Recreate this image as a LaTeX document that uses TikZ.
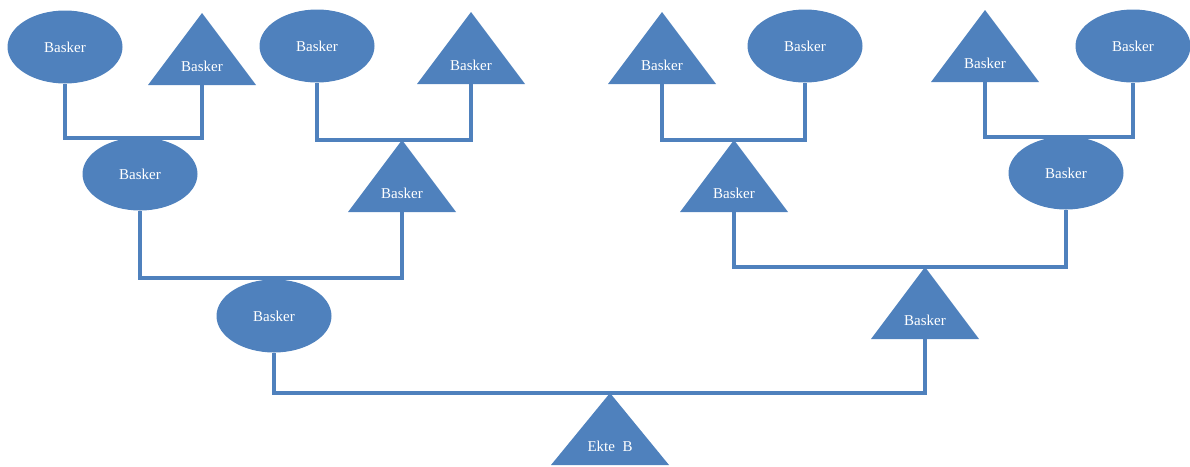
\documentclass[tikz,border=0pt]{standalone}
\usepackage{fontspec}
\setmainfont{Liberation Serif}
\usetikzlibrary{shapes.geometric}
\definecolor{blu}{HTML}{4F81BD}
\tikzset{
  ell/.style={ellipse, fill=blu, minimum width=115pt, minimum height=73pt, inner sep=0pt, text=white, font=\fontsize{15}{17}\selectfont},
  lbl/.style={text=white, inner sep=0pt, font=\fontsize{15}{17}\selectfont},
  conn/.style={draw=blu, line width=3.2pt}
}
\newcommand\mytri[5]{%
  \fill[blu] (#2-#5,#3+72) -- (#2,#3) -- (#2+#5,#3+72) -- cycle;
  \coordinate (#1-top) at (#2,#3);
  \coordinate (#1-bot) at (#2,#3+72);
  \node[lbl] (#1) at (#2,#3+53) {#4};}
\begin{document}
\begin{tikzpicture}[x=1pt,y=-1pt]
\useasboundingbox (0,0) rectangle (1190,466);
\coordinate (j9) at (140,138);
\coordinate (j10) at (402,140);
\coordinate (j11) at (734,140);
\coordinate (j12) at (1065,137);
\coordinate (j13) at (275,278);
\coordinate (j14) at (925,267);
\coordinate (j15) at (610,393);
% top row
\node[ell] (n1) at (65,47) {Basker};
\mytri{n2}{202}{13}{Basker}{54}
\node[ell] (n3) at (317,46) {Basker};
\mytri{n4}{471}{12}{Basker}{54}
\mytri{n5}{662}{12}{Basker}{54}
\node[ell] (n6) at (805,46) {Basker};
\mytri{n7}{985}{10}{Basker}{54}
\node[ell] (n8) at (1133,46) {Basker};
% level 2
\node[ell] (n9) at (140,174) {Basker};
\mytri{n10}{402}{140}{Basker}{54}
\mytri{n11}{734}{140}{Basker}{54}
\node[ell] (n12) at (1066,173) {Basker};
% level 3
\node[ell] (n13) at (274,316) {Basker};
\mytri{n14}{925}{267}{Basker}{54}
% level 4
\mytri{n15}{610}{393}{Ekte\ \ B}{59}
% connectors
\draw[conn] (n1.south) |- (j9) -| (n2-bot);
\draw[conn] (n3.south) |- (j10) -| (n4-bot);
\draw[conn] (n5-bot) |- (j11) -| (n6.south);
\draw[conn] (n7-bot) |- (j12) -| (n8.south);
\draw[conn] (n9.south) |- (j13) -| (n10-bot);
\draw[conn] (n11-bot) |- (j14) -| (n12.south);
\draw[conn] (n13.south) |- (j15) -| (n14-bot);
\end{tikzpicture}
\end{document}
